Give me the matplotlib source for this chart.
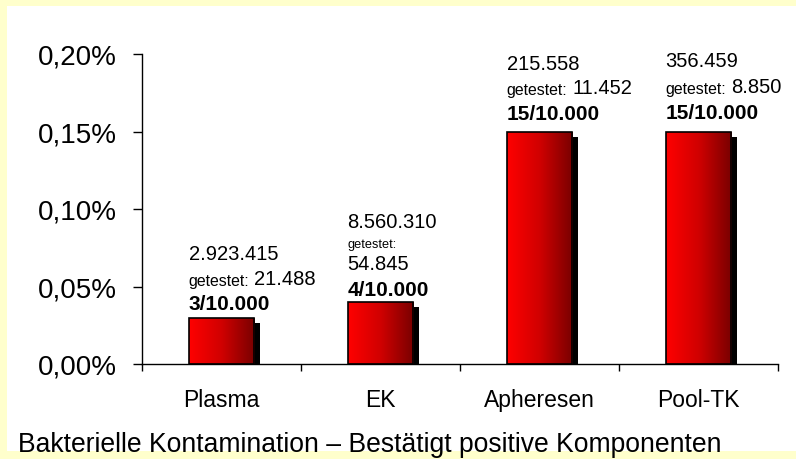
import matplotlib
matplotlib.use('Agg')
import matplotlib.pyplot as plt
import numpy as np
from matplotlib.patches import Rectangle
from matplotlib.transforms import offset_copy
from matplotlib.colors import LinearSegmentedColormap
from matplotlib.ticker import FuncFormatter, FixedLocator

# ---------------- data ----------------
categories = ['Plasma', 'EK', 'Apheresen', 'Pool-TK']
rates_pct = [0.03, 0.04, 0.15, 0.15]
produced = ['2.923.415', '8.560.310', '215.558', '356.459']
tested = ['21.488', '54.845', '11.452', '8.850']
fractions = ['3/10.000', '4/10.000', '15/10.000', '15/10.000']
yticks = [0.00, 0.05, 0.10, 0.15, 0.20]
title = 'Bakterielle Kontamination \u2013 Best\u00e4tigt positive Komponenten'

# ---------------- layout (pixels above bar top) ----------------
line_offsets = [
    {'frac': 14, 'test': 39, 'prod': 64},
    {'frac': 13, 'num': 38, 'test': 58, 'prod': 80},
    {'frac': 18, 'test': 44, 'prod': 68},
    {'frac': 19, 'test': 45, 'prod': 71},
]

plt.rcParams['font.family'] = ['Liberation Sans', 'DejaVu Sans']

W, H = 796, 460
fig = plt.figure(figsize=(W / 100, H / 100), dpi=100)
fig.patch.set_facecolor('#FFFFCC')
fig.patches.append(Rectangle((7 / W, (H - 452) / H), 1, (452 - 7) / H,
                             transform=fig.transFigure, facecolor='white',
                             edgecolor='none', zorder=-5))

ax = fig.add_axes([142 / W, (H - 365) / H, 636 / W, 310 / H])
ax.set_zorder(2)
ax.patch.set_alpha(0)

x = np.arange(len(categories))
width = 0.415

# shadows
shadow_tr = offset_copy(ax.transData, fig=fig, x=6, y=-5, units='dots')
ax.bar(x, rates_pct, width, color='black', transform=shadow_tr, zorder=1)

# gradient bars
cmap = LinearSegmentedColormap.from_list('red', ['#FF0000', '#D00000', '#780000'])
grad = np.linspace(0, 1, 256).reshape(1, -1)
bars = ax.bar(x, rates_pct, width, facecolor='none', edgecolor='black',
              linewidth=1.2, zorder=3)
for b in bars:
    x0, y0 = b.get_x(), b.get_y()
    im = ax.imshow(grad, cmap=cmap, aspect='auto', zorder=2,
                   extent=[x0, x0 + b.get_width(), y0, y0 + b.get_height()],
                   interpolation='bilinear')
    im.set_clip_path(b)

ax.set_xlim(-0.5, len(categories) - 0.5)
ax.set_ylim(0, 0.20)

# labels above bars
for i, b in enumerate(bars):
    lo = line_offsets[i]
    xl, top = b.get_x(), b.get_height()
    ax.annotate(fractions[i], xy=(xl, top), xytext=(0, lo['frac']),
                textcoords='offset pixels', ha='left', va='center',
                fontsize=15, fontweight='bold', zorder=5)
    ax.annotate(produced[i], xy=(xl, top), xytext=(0, lo['prod']),
                textcoords='offset pixels', ha='left', va='center',
                fontsize=14.5, zorder=5)
    if 'num' in lo:
        ax.annotate('getestet:', xy=(xl, top), xytext=(0, lo['test']),
                    textcoords='offset pixels', ha='left', va='center',
                    fontsize=9.2, zorder=5)
        ax.annotate(tested[i], xy=(xl, top), xytext=(0, lo['num']),
                    textcoords='offset pixels', ha='left', va='center',
                    fontsize=14.5, zorder=5)
    else:
        t1 = ax.annotate('getestet:', xy=(xl, top), xytext=(0, lo['test'] - 2),
                         textcoords='offset pixels', ha='left', va='center',
                         fontsize=11.4, zorder=5)
        ax.annotate(tested[i], xy=(1, 0), xycoords=t1, xytext=(5, 0),
                    textcoords='offset pixels', ha='left', va='bottom',
                    fontsize=14.5, zorder=5)

# axes styling
for s in ['top', 'right']:
    ax.spines[s].set_visible(False)
for s in ['left', 'bottom']:
    ax.spines[s].set_color('black')
    ax.spines[s].set_linewidth(1)

ax.yaxis.set_major_locator(FixedLocator(yticks))
ax.yaxis.set_major_formatter(FuncFormatter(lambda v, p: f'{v:.2f}'.replace('.', ',') + '%'))
ax.tick_params(axis='y', direction='out', length=6.5, width=1, pad=11.5,
               labelsize=20, colors='black')

ax.set_xticks(x)
ax.set_xticklabels(categories)
ax.set_xticks(np.arange(-0.5, len(categories)), minor=True)
ax.tick_params(axis='x', which='major', length=0, pad=17, labelsize=16.5)
ax.tick_params(axis='x', which='minor', direction='out', length=5, width=1)

fig.text(18 / W, (H - 445) / H, title, ha='left', va='center', fontsize=19.1)

fig.savefig('out.png', dpi=100, facecolor=fig.get_facecolor())
